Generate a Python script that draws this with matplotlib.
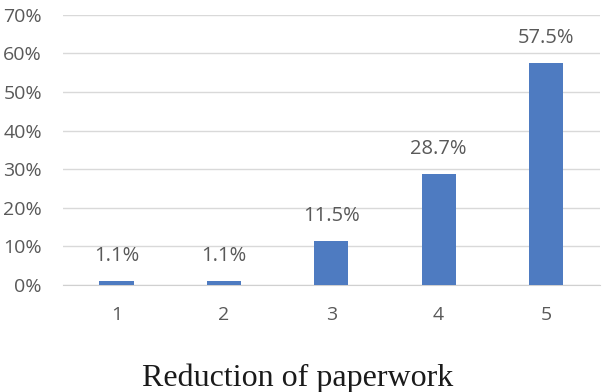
import matplotlib.pyplot as plt
import numpy as np

# survey ratings for "reduction of paperwork"
ratings = ['1', '2', '3', '4', '5']
shares = [1.1, 1.1, 11.5, 28.7, 57.5]
yticks = [0, 10, 20, 30, 40, 50, 60, 70]

bar_color = '#4e7bc1'
text_color = '#595959'

fig = plt.figure(figsize=(6.04, 3.92), dpi=100)
ax = fig.add_axes([0.104, 0.273, 0.889, 0.689])

x = np.arange(len(ratings))
ax.bar(x, shares, width=0.32, color=bar_color, zorder=3)

for xi, v in zip(x, shares):
    ax.text(xi, v + 6.5, f'{v}%', ha='center', va='center',
            fontsize=14.5, color=text_color, family='Open Sans')

ax.set_xlim(-0.5, len(ratings) - 0.5)
ax.set_ylim(0, 70)
ax.set_yticks(yticks)
ax.set_yticklabels([f'{t}%' for t in yticks])
ax.set_xticks(x)
ax.set_xticklabels(ratings)

ax.grid(axis='y', color='#d9d9d9', linewidth=1, zorder=0)
for s in ['top', 'right', 'left']:
    ax.spines[s].set_visible(False)
ax.spines['bottom'].set_color('#d0d0d0')
ax.tick_params(length=0, labelsize=14, labelcolor=text_color)
ax.tick_params(axis='x', pad=15)
ax.tick_params(axis='y', pad=15)
for lbl in ax.get_xticklabels() + ax.get_yticklabels():
    lbl.set_family('Open Sans')

fig.text(0.492, 0.034, 'Reduction of paperwork', ha='center', va='center',
         fontsize=23, family='Liberation Serif', color='#1a1a1a')

fig.savefig('out.png', dpi=100)
